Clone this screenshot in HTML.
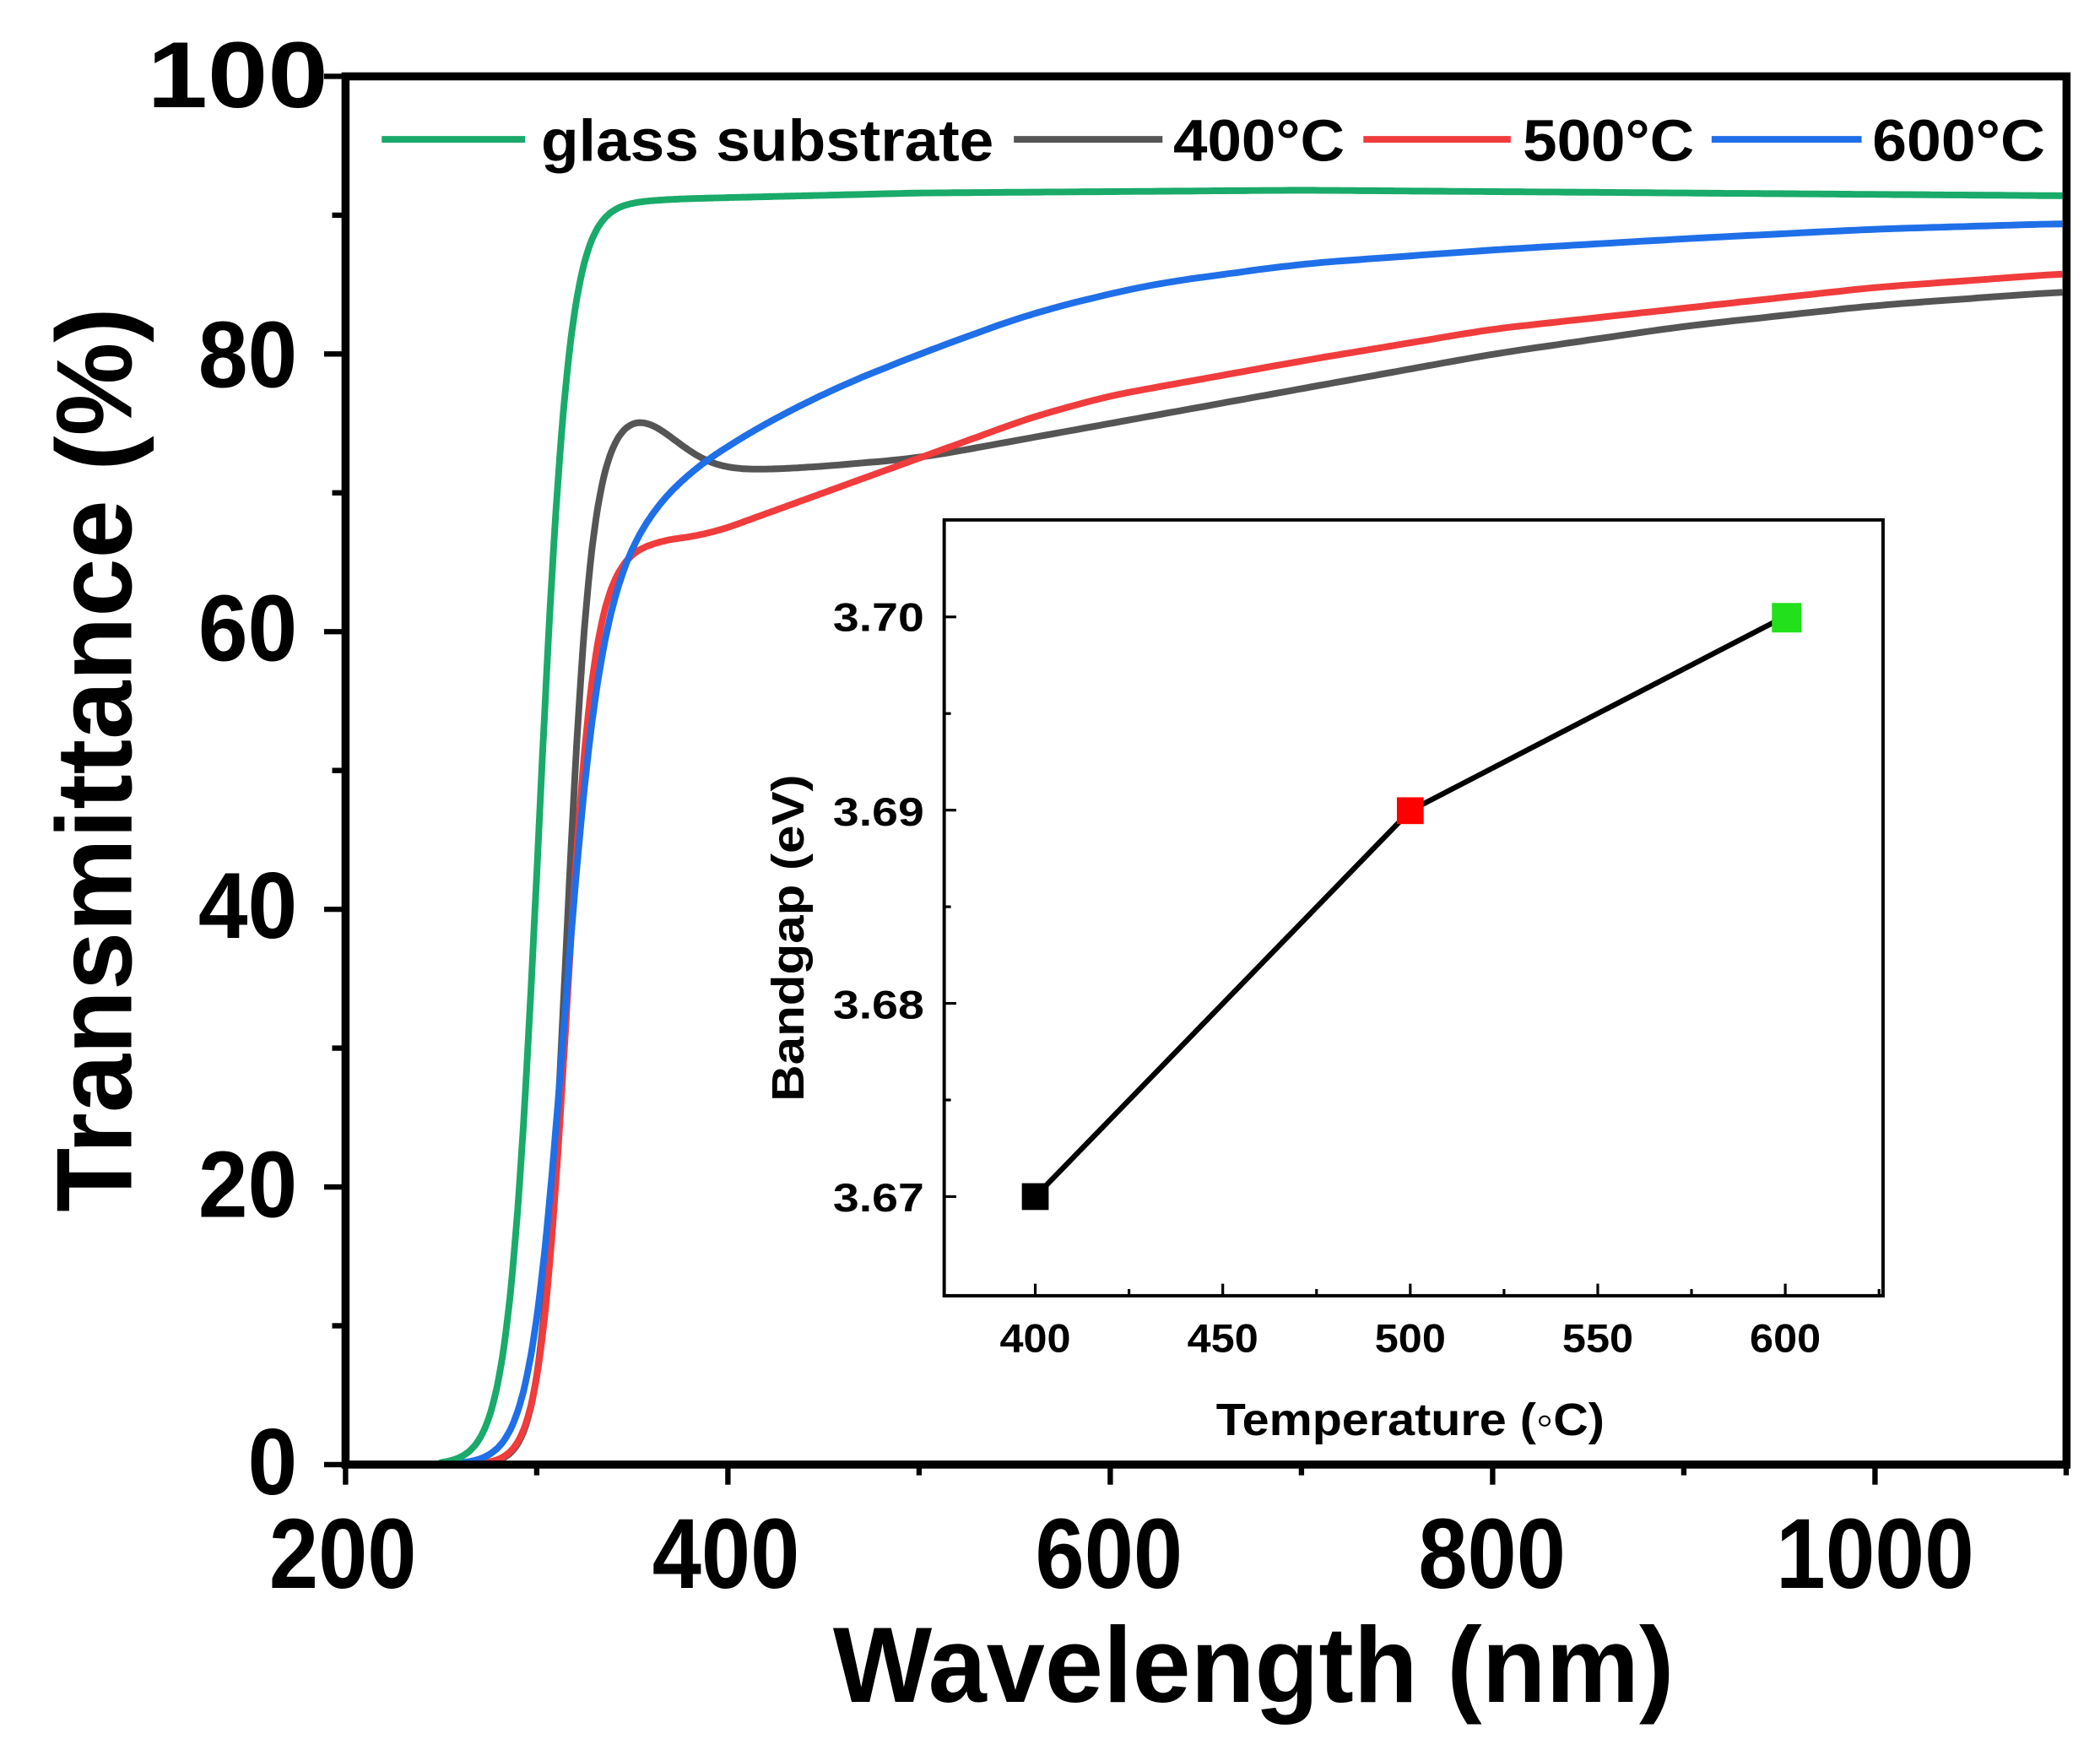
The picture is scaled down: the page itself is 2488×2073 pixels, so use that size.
<!DOCTYPE html>
<html><head><meta charset="utf-8"><style>
html,body{margin:0;padding:0;background:#fff;}
svg{display:block;}
text{font-family:"Liberation Sans",Arial,sans-serif;font-weight:bold;fill:#000;}
</style></head><body>
<svg id="s" width="2488" height="2073" viewBox="0 0 1568 1306" preserveAspectRatio="none" xmlns="http://www.w3.org/2000/svg">
<rect width="1568" height="1306" fill="#fff"/>
<g id="curves" fill="none" stroke-width="5" stroke-linejoin="round"></g>
<rect x="258" y="57" width="1285" height="1036" fill="none" stroke="#000" stroke-width="6"/>
<g stroke="#000" stroke-width="4" id="ticks"></g>
<g font-size="70" text-anchor="end">
<text x="222" y="1115" textLength="37" lengthAdjust="spacingAndGlyphs">0</text>
<text x="222" y="908" textLength="74" lengthAdjust="spacingAndGlyphs">20</text>
<text x="222" y="700" textLength="74" lengthAdjust="spacingAndGlyphs">40</text>
<text x="222" y="493" textLength="74" lengthAdjust="spacingAndGlyphs">60</text>
<text x="222" y="289" textLength="74" lengthAdjust="spacingAndGlyphs">80</text>
<text x="245" y="80" textLength="135" lengthAdjust="spacingAndGlyphs">100</text>
</g>
<g font-size="74" text-anchor="middle">
<text x="256" y="1185" textLength="110" lengthAdjust="spacingAndGlyphs">200</text>
<text x="542" y="1185" textLength="110" lengthAdjust="spacingAndGlyphs">400</text>
<text x="828" y="1185" textLength="110" lengthAdjust="spacingAndGlyphs">600</text>
<text x="1114" y="1185" textLength="110" lengthAdjust="spacingAndGlyphs">800</text>
<text x="1400" y="1185" textLength="148" lengthAdjust="spacingAndGlyphs">1000</text>
</g>
<text x="936" y="1270" font-size="80" text-anchor="middle" textLength="628" lengthAdjust="spacingAndGlyphs">Wavelength (nm)</text>
<text transform="translate(98,567) rotate(-90)" font-size="80" text-anchor="middle" textLength="675" lengthAdjust="spacingAndGlyphs">Transmittance (%)</text>
<g stroke-width="5">
<line x1="285" y1="104" x2="392" y2="104" stroke="#1aaa6a"/>
<line x1="757" y1="104" x2="868" y2="104" stroke="#555"/>
<line x1="1018" y1="104" x2="1128" y2="104" stroke="#f03c3c"/>
<line x1="1278" y1="104" x2="1390" y2="104" stroke="#1f6fe8"/>
</g>
<g font-size="44">
<text x="404" y="120" textLength="338" lengthAdjust="spacingAndGlyphs">glass substrate</text>
<text x="876" y="120" textLength="128" lengthAdjust="spacingAndGlyphs">400°C</text>
<text x="1137" y="120" textLength="128" lengthAdjust="spacingAndGlyphs">500°C</text>
<text x="1398" y="120" textLength="129" lengthAdjust="spacingAndGlyphs">600°C</text>
</g>
<rect x="705" y="388" width="701" height="579" fill="#fff" stroke="#000" stroke-width="2.5"/>
<g stroke="#000" stroke-width="2" id="iticks"></g>
<g font-size="30" text-anchor="end">
<text x="690" y="471" textLength="68" lengthAdjust="spacingAndGlyphs">3.70</text>
<text x="690" y="616" textLength="68" lengthAdjust="spacingAndGlyphs">3.69</text>
<text x="690" y="760" textLength="68" lengthAdjust="spacingAndGlyphs">3.68</text>
<text x="690" y="904" textLength="68" lengthAdjust="spacingAndGlyphs">3.67</text>
</g>
<g font-size="30" text-anchor="middle">
<text x="773" y="1009" textLength="53" lengthAdjust="spacingAndGlyphs">400</text>
<text x="913" y="1009" textLength="53" lengthAdjust="spacingAndGlyphs">450</text>
<text x="1053" y="1009" textLength="53" lengthAdjust="spacingAndGlyphs">500</text>
<text x="1193" y="1009" textLength="53" lengthAdjust="spacingAndGlyphs">550</text>
<text x="1333" y="1009" textLength="53" lengthAdjust="spacingAndGlyphs">600</text>
</g>
<text x="1053" y="1071" font-size="34" text-anchor="middle" textLength="290" lengthAdjust="spacingAndGlyphs">Temperature (◦C)</text>
<text transform="translate(600,700) rotate(-90)" font-size="34" text-anchor="middle" textLength="244" lengthAdjust="spacingAndGlyphs">Bandgap (eV)</text>
<polyline points="773,893 1053,605 1333,460" fill="none" stroke="#000" stroke-width="4"/>
<rect x="763" y="883" width="20" height="20" fill="#000"/>
<rect x="1043" y="595" width="20" height="20" fill="#f00"/>
<rect x="1323" y="450" width="22" height="22" fill="#22e01a"/>
</svg>
<script>
(function(){
var NS="http://www.w3.org/2000/svg";
function X(l){return 258+(l-200)*1.4275;}
function Y(t){return 1093-t*10.36;}
function interp(tab,l){
 if(l<=tab[0][0]){var a=tab[0],b=tab[1];return a[1]+(b[1]-a[1])*(l-a[0])/(b[0]-a[0]);}
 for(var i=1;i<tab.length;i++){if(l<=tab[i][0]){var a=tab[i-1],b=tab[i];return a[1]+(b[1]-a[1])*(l-a[0])/(b[0]-a[0]);}}
 return tab[tab.length-1][1];}
function sm(tab,l,w){var s=0,n=0;for(var k=-w;k<=w;k+=2){s+=interp(tab,l+k);n++;}return s/n;}
function sig(l,c,w){return 1/(1+Math.exp(-(l-c)/w));}
var G=[[300,71],[440,71.8],[500,72.5],[600,75],[700,77.5],[800,80],[900,82],[1000,83.5],[1100,84.5]];
var R=[[320,63],[340,65.5],[360,66.5],[390,67],[450,70],[500,72.5],[560,75.5],[600,77],[700,79.5],[800,81.8],[900,83.3],[1000,84.8],[1100,85.8]];
var B=[[310,58],[330,63],[350,67.5],[370,70.5],[400,73.5],[450,77.2],[500,80],[560,83],[620,85],[700,86.5],[800,87.5],[900,88.3],[1000,89],[1100,89.4]];
var GR=[[340,91],[380,91.2],[500,91.6],[700,91.8],[1100,91.4]];
var series=[
 {c:"#555",f:function(l){return sig(l,315,6.5)*(sm(G,l,20)+4*Math.exp(-Math.pow((l-350)/22,2)/2));}},
 {c:"#f03c3c",f:function(l){return sig(l,315,7)*sm(R,l,14);}},
 {c:"#1f6fe8",f:function(l){return sig(l,313,9)*sm(B,l,24);}},
 {c:"#1aaa6a",f:function(l){return sig(l,301,8)*sm(GR,l,10);}}
];
var g=document.getElementById("curves");
series.forEach(function(s){
 var d="";
 for(var l=200;l<=1100;l+=(l<450?1:4)){var t=s.f(l);if(t<0.15)t=0;d+=(d?"L":"M")+X(l).toFixed(1)+","+Y(t).toFixed(1);}
 var p=document.createElementNS(NS,"path");p.setAttribute("d",d);p.setAttribute("stroke",s.c);g.appendChild(p);
});
var tk=document.getElementById("ticks"),h="";
for(var t=0;t<=100;t+=10){var y=Y(t);h+='<line x1="'+(t%20?248:242)+'" y1="'+y+'" x2="258" y2="'+y+'"/>';}
for(var l=200;l<=1100;l+=100){var x=X(l);h+='<line x1="'+x+'" y1="1093" x2="'+x+'" y2="'+(l%200?1101:1108)+'"/>';}
tk.innerHTML=h;
var it=document.getElementById("iticks");h="";
for(var k=0;k<=8;k++){var y=893-k*72.1;if(y<390)break;h+='<line x1="705" y1="'+y+'" x2="'+(k%2?710:714)+'" y2="'+y+'"/>';}
for(var k=-1;k<=9;k++){var x=773+k*70;if(x<706||x>1405)continue;h+='<line x1="'+x+'" y1="967" x2="'+x+'" y2="'+(k%2?962:958)+'"/>';}
it.innerHTML=h;
})();
</script>
</body></html>
